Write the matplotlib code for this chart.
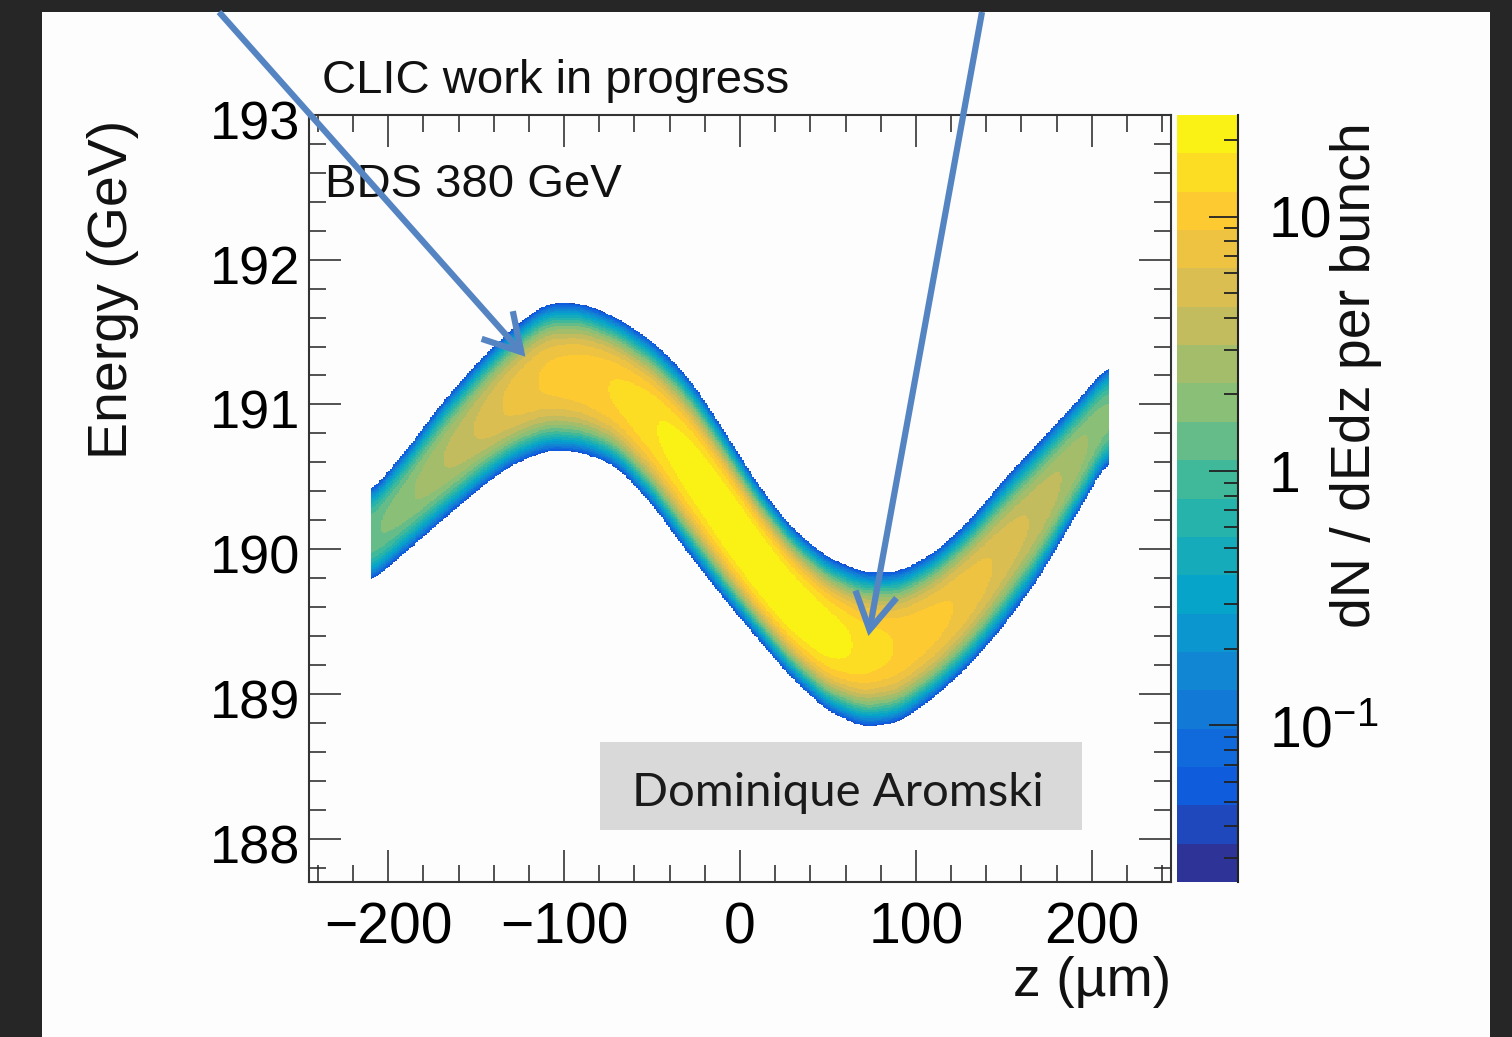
import numpy as np
import matplotlib
matplotlib.use("Agg")
import matplotlib.pyplot as plt
from matplotlib.colors import LinearSegmentedColormap, ListedColormap, LogNorm
from matplotlib.ticker import FixedLocator, MultipleLocator, LogLocator, NullFormatter
from matplotlib.patches import Rectangle
from matplotlib.transforms import ScaledTranslation

plt.rcParams['font.family'] = ['Liberation Sans', 'DejaVu Sans']
plt.rcParams['mathtext.fontset'] = 'custom'
plt.rcParams['mathtext.rm'] = 'Liberation Sans'
plt.rcParams['mathtext.it'] = 'Liberation Sans:italic'

# ---------------- data ----------------
z_nodes = [-210, -190, -170, -150, -130, -110, -90, -70, -50, -30, -10,
           10, 30, 50, 70, 90, 110, 130, 150, 170, 190, 210]           # um
e_upper = [190.39, 190.68, 191.00, 191.28, 191.52, 191.70, 191.70, 191.60,
           191.44, 191.20, 190.84, 190.45, 190.14, 189.94, 189.84, 189.84,
           189.97, 190.19, 190.48, 190.74, 191.00, 191.28]              # GeV
e_lower = [189.77, 189.98, 190.19, 190.40, 190.58, 190.68, 190.67, 190.57,
           190.31, 189.98, 189.67, 189.38, 189.10, 188.88, 188.77, 188.80,
           188.97, 189.19, 189.47, 189.80, 190.21, 190.63]              # GeV
peak_density = [1.4, 2.0, 3.0, 4.5, 7.0, 9.5, 11.0, 13.0, 17.0, 22.0, 26.0,
                28.0, 26.0, 22.0, 16.0, 12.0, 10.0, 8.0, 5.5, 4.0, 2.7, 1.6]
edge_density = 0.045

x_ticks = [-200, -100, 0, 100, 200]
x_tick_labels = ['\u2212200', '\u2212100', '0', '100', '200']
y_ticks = [188, 189, 190, 191, 192, 193]
y_tick_labels = ['188', '189', '190', '191', '192', '193']
cbar_ticks = [0.1, 1, 10]
cbar_tick_labels = [r'$\mathregular{10^{-1}}$', '1', '10']
z_min, z_max = 0.0242, 25.1
n_contours = 20

# ROOT kBird palette
bird_stops = [0.0, 0.125, 0.25, 0.375, 0.5, 0.625, 0.75, 0.875, 1.0]
bird_r = [0.2082, 0.0592, 0.0780, 0.0232, 0.1802, 0.5301, 0.8186, 0.9956, 0.9764]
bird_g = [0.1664, 0.3599, 0.5041, 0.6419, 0.7178, 0.7492, 0.7328, 0.7862, 0.9832]
bird_b = [0.5293, 0.8684, 0.8385, 0.7914, 0.6425, 0.4662, 0.3499, 0.1968, 0.0539]

# ---------------- figure ----------------
W, H = 1512, 1037
fig = plt.figure(figsize=(W / 100, H / 100), dpi=100, facecolor='#262626')
fig.add_artist(Rectangle((42 / W, 0), (1490 - 42) / W, (H - 12) / H,
                         transform=fig.transFigure, facecolor='#fdfdfd',
                         edgecolor='none', zorder=-10))

ax = fig.add_axes([309 / W, 155 / H, 862 / W, 767 / H])
ax.set_facecolor('#fdfdfd')

# colormap
bird = LinearSegmentedColormap.from_list(
    'bird', list(zip(bird_stops, zip(bird_r, bird_g, bird_b))))
cmap = ListedColormap([bird((i + 0.5) / n_contours) for i in range(n_contours)])
cmap.set_over(cmap(n_contours - 1))
cmap.set_under(cmap(0))
cmap.set_bad((1, 1, 1, 0))
norm = LogNorm(vmin=z_min, vmax=z_max)


def smooth(a, n):
    k = np.ones(n) / n
    p = np.pad(a, n // 2, mode='edge')
    return np.convolve(p, k, mode='valid')


# histogram grid built from the band read above
z_edges = np.arange(z_nodes[0], z_nodes[-1] + 0.5, 1.0)
e_edges = np.arange(188.6, 191.9, 0.005)
zc = 0.5 * (z_edges[:-1] + z_edges[1:])
ec = 0.5 * (e_edges[:-1] + e_edges[1:])
up = smooth(np.interp(zc, z_nodes, e_upper), 15)
lo = smooth(np.interp(zc, z_nodes, e_lower), 15)
pk = smooth(np.interp(zc, z_nodes, np.log10(peak_density)), 15)
Z, E = np.meshgrid(zc, ec)
UP = up[None, :]; LO = lo[None, :]; PK = pk[None, :]
C = 0.5 * (UP + LO)
HW = 0.5 * (UP - LO)
u = np.abs(E - C) / HW
logd = PK - (PK - np.log10(edge_density)) * u ** 2.9
dens = np.where(u <= 1.0, 10 ** logd, np.nan)
dens = np.ma.masked_invalid(dens)

mesh = ax.pcolormesh(z_edges, e_edges, dens, cmap=cmap, norm=norm,
                     shading='flat', rasterized=True, zorder=1)

ax.set_xlim(-245, 245)
ax.set_ylim(187.7, 193)
ax.xaxis.set_major_locator(FixedLocator(x_ticks))
ax.xaxis.set_minor_locator(MultipleLocator(20))
ax.yaxis.set_major_locator(FixedLocator(y_ticks))
ax.yaxis.set_minor_locator(MultipleLocator(0.2))
ax.set_xticklabels(x_tick_labels)
ax.set_yticklabels(y_tick_labels)
ax.tick_params(which='both', direction='in', top=True, right=True,
               color='#222222', width=1.1)
ax.tick_params(which='major', length=23)
ax.tick_params(which='minor', length=12)
ax.tick_params(axis='x', which='major', labelsize=41, pad=14)
ax.tick_params(axis='y', which='major', labelsize=39, pad=6)
for lab in ax.get_yticklabels():
    lab.set_transform(lab.get_transform() +
                      ScaledTranslation(0, -5 / 100, fig.dpi_scale_trans))
for s in ax.spines.values():
    s.set_linewidth(1.5)
    s.set_color('#333333')

# colorbar
cax = fig.add_axes([1177 / W, 155 / H, 61 / W, 767 / H])
cb = fig.colorbar(mesh, cax=cax, extend='neither')
cb.outline.set_visible(False)
cax.plot([1, 1], [0, 1], transform=cax.transAxes, color='#222222', lw=1.5,
         clip_on=False)
cb.set_ticks(cbar_ticks)
cb.set_ticklabels(cbar_tick_labels)
cax.yaxis.set_minor_locator(LogLocator(base=10, subs=np.arange(2, 10)))
cax.yaxis.set_minor_formatter(NullFormatter())
cax.tick_params(which='both', direction='in', right=True, left=False,
                color='#222222', width=1.3)
cax.tick_params(which='major', length=21, labelsize=41, pad=22)
cax.tick_params(which='minor', length=10)


def fx(px):
    return px / W


def fy(py):
    return 1 - py / H


# texts
fig.text(fx(322), fy(93), 'CLIC work in progress', fontsize=34,
         ha='left', va='baseline', color='#111111')
ax.text(fx(325), fy(197), 'BDS 380 GeV', fontsize=34, ha='left',
        va='baseline', color='#111111', transform=fig.transFigure, zorder=3)
fig.text(fx(113), fy(120), 'Energy (GeV)', fontsize=40, rotation=90,
         ha='center', va='top', color='#111111')
fig.text(fx(1171), fy(996), 'z (\u00b5m)', fontsize=40, ha='right',
         va='baseline', color='#111111')
fig.text(fx(1356), fy(122), 'dN / dEdz per bunch', fontsize=40, rotation=90,
         ha='center', va='top', color='#111111')

# grey name box
fig.add_artist(Rectangle((fx(600), fy(830)), (1082 - 600) / W, 88 / H,
                         transform=fig.transFigure, facecolor='#d9d9d9',
                         edgecolor='none', zorder=5))
fig.text(fx(838), fy(806), 'Dominique Aromski', fontsize=34,
         family=['Lato', 'DejaVu Sans'], ha='center', va='baseline',
         color='#1a1a1a', zorder=6)

# arrows
arrow_color = '#5584c2'
arrow_style = '->,head_length=1.3,head_width=0.75'
ax.annotate('', xy=(-122, 191.33), xycoords='data',
            xytext=(219, H - 12), textcoords='figure pixels',
            arrowprops=dict(arrowstyle=arrow_style, lw=4.5, color=arrow_color,
                            mutation_scale=20, shrinkA=0, shrinkB=0,
                            joinstyle='miter', capstyle='butt'),
            annotation_clip=False, zorder=10)
ax.annotate('', xy=(73, 189.40), xycoords='data',
            xytext=(982, H - 12), textcoords='figure pixels',
            arrowprops=dict(arrowstyle=arrow_style, lw=4.5, color=arrow_color,
                            mutation_scale=20, shrinkA=0, shrinkB=0,
                            joinstyle='miter', capstyle='butt'),
            annotation_clip=False, zorder=10)

fig.savefig('out.png', dpi=100, facecolor=fig.get_facecolor())
